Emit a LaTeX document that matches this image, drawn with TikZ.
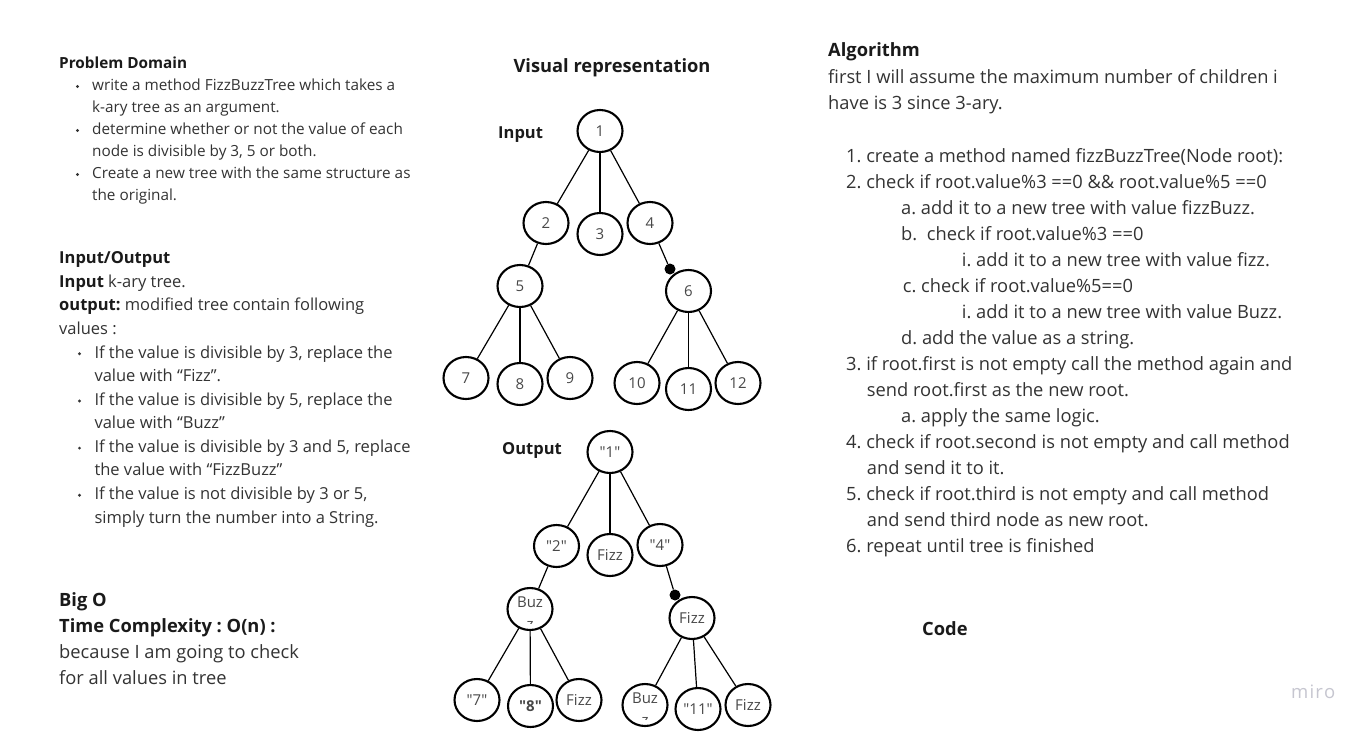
\documentclass[tikz,border=0pt]{standalone}
\usepackage{fontspec}
\setmainfont{Open Sans}
\usetikzlibrary{shapes.geometric}
\definecolor{bodyc}{HTML}{333333}
\definecolor{headc}{HTML}{1A1A1A}
\definecolor{nodec}{HTML}{484848}
\definecolor{miroc}{HTML}{C6C6D0}
\font\qfr="Open Sans" at 15pt
\font\qfb="Open Sans/B" at 15pt
\newcommand{\qq}[1]{{\qfr"#1"}}
\newcommand{\qqb}[1]{{\qfb"#1"}}
\tikzset{
  txt/.style={anchor=base west, inner sep=0pt, text=bodyc},
  pd/.style={txt, font=\fontsize{15.3}{20}\selectfont\frenchspacing},
  pdh/.style={txt, text=headc, font=\fontsize{15.3}{20}\selectfont\bfseries\frenchspacing},
  io/.style={txt, font=\fontsize{16.5}{20}\selectfont\frenchspacing},
  ioh/.style={txt, text=headc, font=\fontsize{16.5}{20}\selectfont\bfseries\frenchspacing},
  bo/.style={txt, font=\fontsize{18.3}{22}\selectfont\frenchspacing},
  boh/.style={txt, text=headc, font=\fontsize{18.3}{22}\selectfont\bfseries\frenchspacing},
  lab/.style={txt, text=headc, font=\fontsize{16.5}{20}\selectfont\bfseries},
  tn/.style={ellipse, draw=black, line width=2.1pt, minimum width=45pt, minimum height=42pt, inner sep=0pt, text=nodec, font=\fontsize{15}{18}\selectfont},
  nt/.style={inner sep=0pt, text=nodec, font=\fontsize{15}{18}\selectfont},
  edge/.style={line width=1.2pt, draw=black},
  dotn/.style={circle, fill=black, inner sep=0pt, minimum size=11pt},
  bul/.style={circle, fill=bodyc, inner sep=0pt, minimum size=3.2pt}
}
\begin{document}
\begin{tikzpicture}[x=1pt,y=-1pt]
\useasboundingbox (0,0) rectangle (1367,731);
\fill[white] (0,0) rectangle (1367,731);

% ---------- Problem Domain ----------
\node[pdh] (pdh) at (59,68.5) {Problem Domain};
\node[bul] (pb1) at (77.5,86.5) {};
\node[pd] (pd1) at (92,90.5) {write a method FizzBuzzTree which takes a};
\node[pd] (pd2) at (92,112.5) {k-ary tree as an argument.};
\node[bul] (pb2) at (77.5,130.5) {};
\node[pd] (pd3) at (92,134.5) {determine whether or not the value of each};
\node[pd] (pd4) at (92,156.5) {node is divisible by 3, 5 or both.};
\node[bul] (pb3) at (77.5,174.5) {};
\node[pd] (pd5) at (92,178.5) {Create a new tree with the same structure as};
\node[pd] (pd6) at (92,200.5) {the original.};

% ---------- Input/Output ----------
\node[ioh] (ioh) at (59,263.7) {Input/Output};
\node[io] (io1) at (59,287.3) {\textbf{\color{headc}Input} k-ary tree.};
\node[io] (io2) at (59,310.9) {\textbf{\color{headc}output:} modified tree contain following};
\node[io] (io3) at (59,334.4) {values :};
\node[bul] (ib1) at (79.5,353.8) {};
\node[io] (io4) at (94.3,358.0) {If the value is divisible by 3, replace the};
\node[io] (io5) at (94.3,381.6) {value with “Fizz”.};
\node[bul] (ib2) at (79.5,401.0) {};
\node[io] (io6) at (94.3,405.2) {If the value is divisible by 5, replace the};
\node[io] (io7) at (94.3,428.8) {value with “Buzz”};
\node[bul] (ib3) at (79.5,448.1) {};
\node[io] (io8) at (94.3,452.3) {If the value is divisible by 3 and 5, replace};
\node[io] (io9) at (94.3,475.9) {the value with “FizzBuzz”};
\node[bul] (ib4) at (79.5,495.3) {};
\node[io] (io10) at (94.3,499.5) {If the value is not divisible by 3 or 5,};
\node[io] (io11) at (94.3,523.1) {simply turn the number into a String.};

% ---------- Big O ----------
\node[boh] (bo0) at (59,606.5) {Big O};
\node[boh] (bo1) at (59,632.5) {Time Complexity : O(n) :};
\node[bo] (bo2) at (59,658.5) {because I am going to check};
\node[bo] (bo3) at (59,684.5) {for all values in tree};

% ---------- Algorithm ----------
\node[boh] (al0) at (828,56.5) {Algorithm};
\node[bo] (al1) at (828,83) {first I will assume the maximum number of children i};
\node[bo] (al2) at (828,109) {have is 3 since 3-ary.};
\node[bo] (a1) at (846,162) {1. create a method named fizzBuzzTree(Node root):};
\node[bo] (a2) at (846,188) {2. check if root.value\%3 ==0 \&\& root.value\%5 ==0};
\node[bo] (a2a) at (901,214) {a. add it to a new tree with value fizzBuzz.};
\node[bo] (a2b) at (901,240) {b.};
\node[bo] (a2bt) at (926.7,240) {check if root.value\%3 ==0};
\node[bo] (a2bi) at (961.7,266) {i. add it to a new tree with value fizz.};
\node[bo] (a2c) at (902.7,292) {c. check if root.value\%5==0};
\node[bo] (a2ci) at (961.7,318) {i. add it to a new tree with value Buzz.};
\node[bo] (a2d) at (901,344) {d. add the value as a string.};
\node[bo] (a3) at (846,370) {3. if root.first is not empty call the method again and};
\node[bo] (a3b) at (866.7,396) {send root.first as the new root.};
\node[bo] (a3a) at (901,422) {a. apply the same logic.};
\node[bo] (a4) at (846,448) {4. check if root.second is not empty and call method};
\node[bo] (a4b) at (866.7,474) {and send it to it.};
\node[bo] (a5) at (846,500) {5. check if root.third is not empty and call method};
\node[bo] (a5b) at (866.7,526) {and send third node as new root.};
\node[bo] (a6) at (846,552) {6. repeat until tree is finished};

\node[boh] (code) at (922,635) {Code};
\node[txt, text=miroc, font=\fontsize{18.5}{22}\selectfont] (miro) at (1291,698.5) {m\kern1.2pt i\kern1.2pt r\kern1.2pt o};

% ---------- Visual representation ----------
\node[boh, anchor=base] (vr) at (612,72.5) {Visual representation};
\node[lab] (inl) at (498,138.5) {Input};
\node[lab] (outl) at (502,454.5) {Output};

% Input tree
\node[tn] (i1) at (600,131) {1};
\node[tn] (i2) at (546,223) {2};
\node[tn] (i3) at (600,234) {3};
\node[tn] (i4) at (650,223) {4};
\node[tn] (i5) at (520,286) {5};
\node[tn] (i6) at (688.5,291) {6};
\node[tn] (i7) at (466,378) {7};
\node[tn] (i8) at (520,384) {8};
\node[tn] (i9) at (570,378) {9};
\node[tn] (i10) at (637,383) {10};
\node[tn] (i11) at (688.5,389) {11};
\node[tn] (i12) at (738,383) {12};
\node[dotn] (d1) at (670,269) {};
\draw[edge] (i1) -- (i2);
\draw[edge] (i1) -- (i3);
\draw[edge] (i1) -- (i4);
\draw[edge] (i2) -- (i5);
\draw[edge] (i4) -- (d1);
\draw[edge] (i5) -- (i7);
\draw[edge] (i5) -- (i8);
\draw[edge] (i5) -- (i9);
\draw[edge] (i6) -- (i10);
\draw[edge] (i6) -- (i11);
\draw[edge] (i6) -- (i12);

% Output tree
\node[tn] (o1) at (610,452) {\qq{1}};
\node[tn] (o2) at (556.5,546) {\qq{2}};
\node[tn] (o3) at (610,555) {Fizz};
\node[tn] (o4) at (660,545) {\qq{4}};
\node[tn] (o5) at (530,609) {};
\node[tn] (o6) at (692,618) {Fizz};
\node[tn] (o7) at (477,700) {\qq{7}};
\node[tn] (o8) at (530.5,706) {\qqb{8}};
\node[tn] (o9) at (579,700) {Fizz};
\node[tn] (o10) at (645,705) {};
\node[tn] (o11) at (698,709) {\qq{11}};
\node[tn] (o12) at (748,705) {Fizz};
\node[dotn] (d2) at (675,595) {};
\node[nt, anchor=base] (o5a) at (530,607) {Buz};
\begin{scope}
  \clip (508,590) rectangle (552,623.5);
  \node[nt, anchor=base] (o5b) at (530,629.5) {z};
\end{scope}
\node[nt, anchor=base] (o10a) at (645,703) {Buz};
\begin{scope}
  \clip (623,685) rectangle (667,719.5);
  \node[nt, anchor=base] (o10b) at (645,725.5) {z};
\end{scope}
\draw[edge] (o1) -- (o2);
\draw[edge] (o1) -- (o3);
\draw[edge] (o1) -- (o4);
\draw[edge] (o2) -- (o5);
\draw[edge] (o4) -- (d2);
\draw[edge] (o5) -- (o7);
\draw[edge] (o5) -- (o8);
\draw[edge] (o5) -- (o9);
\draw[edge] (o6) -- (o10);
\draw[edge] (o6) -- (o11);
\draw[edge] (o6) -- (o12);
\end{tikzpicture}
\end{document}
